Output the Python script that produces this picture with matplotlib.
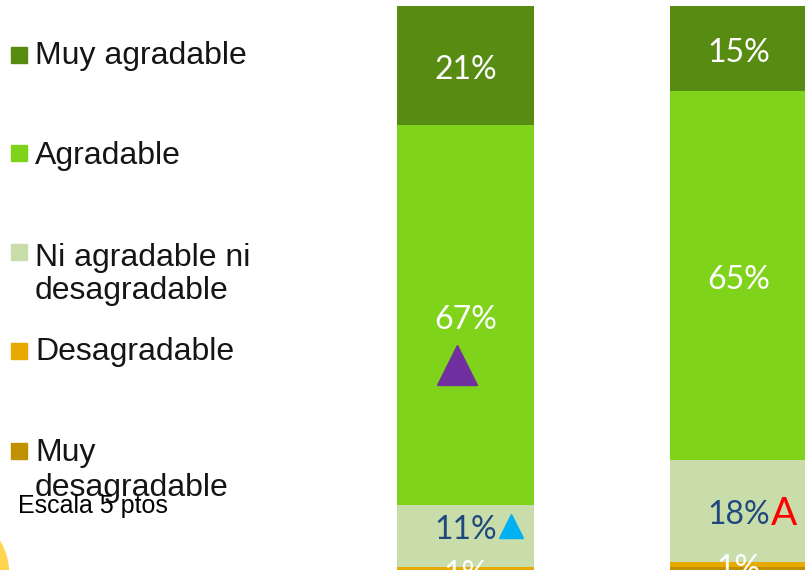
import matplotlib
matplotlib.use("Agg")
import matplotlib.pyplot as plt
from matplotlib.patches import Rectangle, Circle
from matplotlib import font_manager
import matplotlib.transforms as mtransforms

# ---------------- data ----------------
bar_positions = [0, 1]
series_names = ["Muy desagradable", "Desagradable", "Ni agradable ni desagradable",
                "Agradable", "Muy agradable"]
muy_desagradable = [0, 1]
desagradable = [1, 1]
ni_agradable = [11, 18]
agradable = [67, 65]
muy_agradable = [21, 15]

legend_lines = [["Muy agradable"], ["Agradable"], ["Ni agradable ni", "desagradable"],
                ["Desagradable"], ["Muy", "desagradable"]]
scale_note = "Escala 5 ptos"

colors = {
    "Muy agradable": "#578B12",
    "Agradable": "#7FD31A",
    "Ni agradable ni desagradable": "#C9DDAB",
    "Desagradable": "#E8A900",
    "Muy desagradable": "#BF9000",
}
label_colors = {
    "Muy agradable": "white",
    "Agradable": "white",
    "Ni agradable ni desagradable": "#1F497D",
    "Desagradable": "white",
    "Muy desagradable": None,   # no labels shown for this series
}

names = [f.name for f in font_manager.fontManager.ttflist]
label_font = "Lato" if "Lato" in names else "DejaVu Sans"
narrow = "Liberation Sans Narrow" if "Liberation Sans Narrow" in names else "Liberation Sans"

W, H = 805, 570
fig = plt.figure(figsize=(W / 100, H / 100), dpi=100)

# main axes: chart is cropped on the left/bottom/right
ax = fig.add_axes([0, 0, 1, 1])
ax.set_xlim(-1.705, 1.2436)
ax.set_ylim(0.53, 101.06)
ax.axis("off")

stack = [("Muy desagradable", muy_desagradable), ("Desagradable", desagradable),
         ("Ni agradable ni desagradable", ni_agradable), ("Agradable", agradable),
         ("Muy agradable", muy_agradable)]
bottoms = [0] * len(bar_positions)
centers = {}
for name, vals in stack:
    ax.bar(bar_positions, vals, bottom=bottoms, width=0.5, color=colors[name],
           edgecolor="none", zorder=2)
    for i, v in enumerate(vals):
        c = bottoms[i] + v / 2
        centers[(name, i)] = c
        if v > 0 and label_colors[name] is not None:
            dy = -3.5
            if name == "Ni agradable ni desagradable" and i == 0:
                dy = 4.5
            ax.annotate(f"{v}%", (bar_positions[i], c), xytext=(0, dy),
                        textcoords="offset points", ha="center", va="center",
                        fontsize=23, color=label_colors[name], family=label_font,
                        zorder=4)
    bottoms = [b + v for b, v in zip(bottoms, vals)]

# significance markers
t_purple = mtransforms.offset_copy(ax.transData, fig=fig, x=-6, y=-36, units="points")
ax.plot([bar_positions[0]], [centers[("Agradable", 0)]], marker="^", ms=29,
        color="#7030A0", transform=t_purple, zorder=5, linestyle="none")
t_cyan = mtransforms.offset_copy(ax.transData, fig=fig, x=32.5, y=7, units="points")
ax.plot([bar_positions[0]], [centers[("Ni agradable ni desagradable", 0)]], marker="^",
        ms=17, color="#00B0F0", transform=t_cyan, zorder=5, linestyle="none")
ax.annotate("A", (bar_positions[1], centers[("Ni agradable ni desagradable", 1)]),
            xytext=(32.5, -2.5), textcoords="offset points", ha="center", va="center",
            fontsize=28, color="#FF0000", family=label_font, zorder=5)

# overlay axes in pixel coordinates for legend and decorations
ov = fig.add_axes([0, 0, 1, 1], facecolor="none")
ov.set_xlim(0, W)
ov.set_ylim(H, 0)
ov.axis("off")

ov.add_patch(Circle((-53, 573), 61.5, color="#FFD54F", zorder=1, clip_on=True))

marker_tops = [47, 145, 244, 343, 443]
baselines = [[65], [165], [267, 300], [361], [462, 497]]
legend_order = ["Muy agradable", "Agradable", "Ni agradable ni desagradable",
                "Desagradable", "Muy desagradable"]
for name, top, lines, bls in zip(legend_order, marker_tops, legend_lines, baselines):
    ov.add_patch(Rectangle((11, top), 16, 16, color=colors[name], zorder=3))
    for line, bl in zip(lines, bls):
        ov.text(35, bl - 1, line, fontsize=23, family="Liberation Sans", color="#151515",
                ha="left", va="baseline", zorder=3)

ov.text(18, 513, scale_note, fontsize=18, family=narrow, color="#000000",
        ha="left", va="baseline", zorder=4)

fig.savefig("out.png", dpi=100)
